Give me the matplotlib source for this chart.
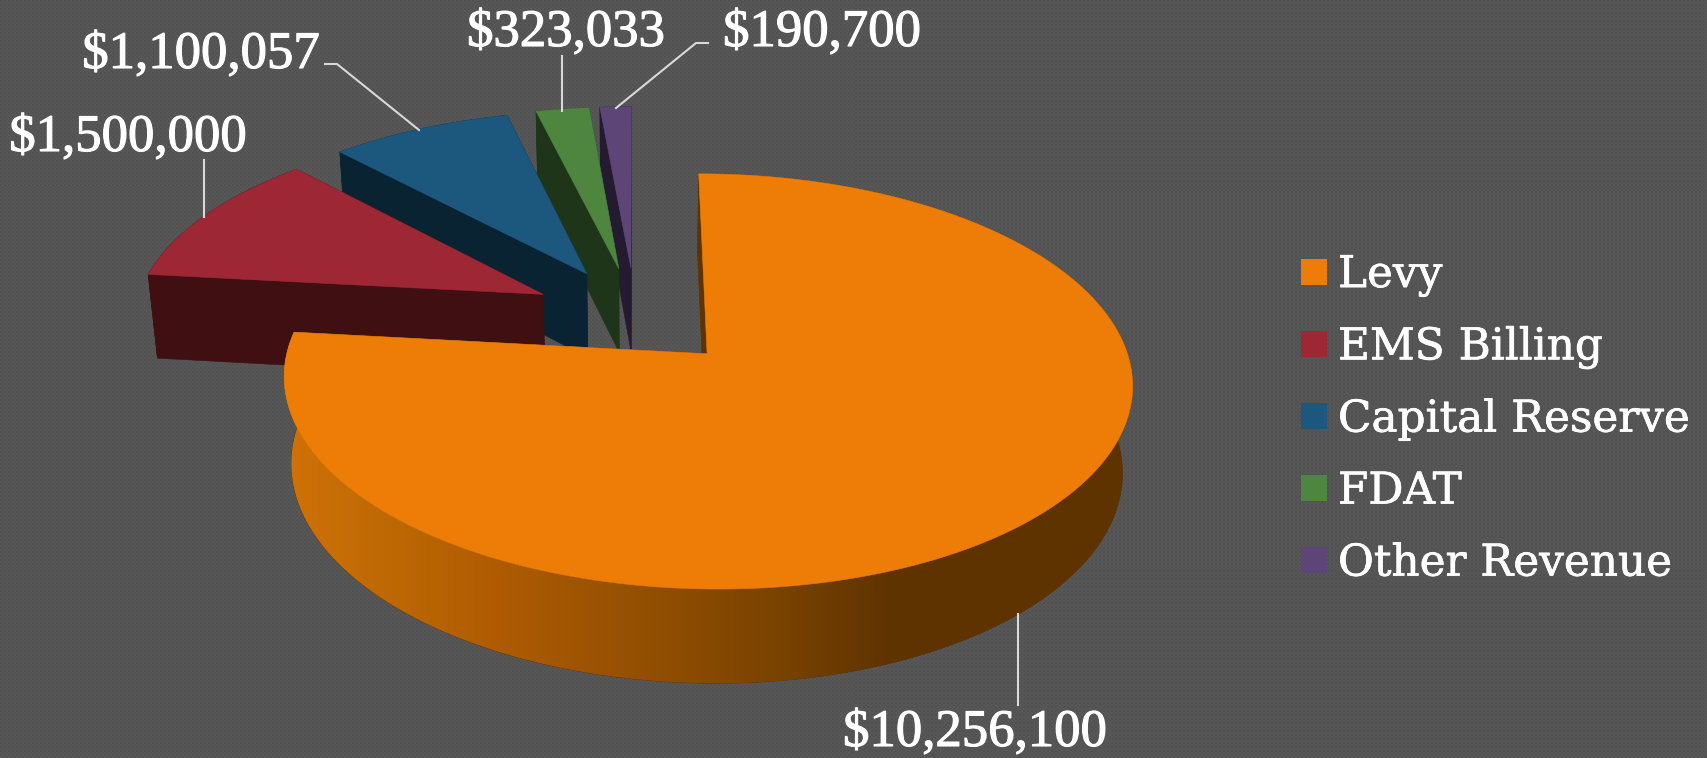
import numpy as np
import matplotlib
matplotlib.use("Agg")
import matplotlib.pyplot as plt
import matplotlib.patheffects as pe
from matplotlib.patches import Polygon, Rectangle

# Revenue sources
categories = ["Levy", "EMS Billing", "Capital Reserve", "FDAT", "Other Revenue"]
values = [10256100, 1500000, 1100057, 323033, 190700]
value_labels = ["$10,256,100", "$1,500,000", "$1,100,057", "$323,033", "$190,700"]

top_colors = ["#EE7D07", "#9D2734", "#1C587E", "#4E853F", "#5E4577"]
wall_colors = ["#5F3300", "#3F0F12", "#0A2333", "#1E3519", "#251B30"]
BG = "#545454"

# camera for the tilted pie, in pixels
VX, VY = 635.5, 316
A, B, C = 410, 194, 87
K, M = 0.13, 0.02
EXPLODE = 0.255

# label centres and their leader lines
label_pos = [(975, 733), (128, 138), (201, 55), (566, 33), (822, 33)]
leaders = [
    [(1018, 614), (1018, 705)],
    [(204, 160), (204, 217)],
    [(325, 64), (337, 64), (419, 130)],
    [(562, 56), (562, 111)],
    [(708, 43), (696, 43), (616, 108)],
]

# shading along the outer wall of the big slice
shade_x = [283, 375, 490, 660, 776, 891, 1140]
shade_rgb = np.array([
    [0xD0, 0x72, 0x07], [0xC0, 0x6A, 0x05], [0xB0, 0x5C, 0x02], [0x90, 0x4E, 0x02],
    [0x7A, 0x43, 0x00], [0x5F, 0x33, 0x00], [0x5F, 0x33, 0x00],
]) / 255


def project(x, y, z=0.0):
    """Perspective projection of pie coordinates to pixels (z is depth below the top)."""
    w = 1 + K * np.asarray(y) + M * z
    return VX + A * np.asarray(x) / w, VY + (-B * np.asarray(y) + C * z) / w


def arc(start, end, ox, oy):
    phi = np.radians(np.linspace(start, end, 200))
    return ox + np.sin(phi), oy + np.cos(phi)


def poly(ax, xs, ys, color, zorder):
    pts = np.column_stack([xs, ys])
    patch = Polygon(pts, closed=True, facecolor=color, edgecolor=color, linewidth=0.4, zorder=zorder)
    ax.add_patch(patch)
    return patch


fig = plt.figure(figsize=(17.07, 7.58), dpi=100, facecolor=BG)
ax = fig.add_axes([0, 0, 1, 1])
ax.set_xlim(0, 1707)
ax.set_ylim(758, 0)
ax.axis("off")

# faint woven texture of the slide background
tile = np.array([[0x51, 0x57], [0x57, 0x53]]) / 255
texture = np.tile(tile, (758 // 4 + 1, 1707 // 4 + 1))
texture = np.kron(texture, np.ones((2, 2)))
ax.imshow(texture, cmap="gray", vmin=0, vmax=1, extent=(0, 1707, 758, 0), aspect="auto",
          interpolation="nearest", zorder=0)

angles = np.cumsum([0] + list(values)) / sum(values) * 360

# painted back to front: the small slices first, the big one last
for i in range(len(values) - 1, -1, -1):
    start, end = angles[i], angles[i + 1]
    mid = np.radians((start + end) / 2)
    ox, oy = EXPLODE * np.sin(mid), EXPLODE * np.cos(mid)
    ax_, ay_ = arc(start, end, ox, oy)
    z = 10 + 2 * (len(values) - i)

    # walls and bottom
    for phi in (start, end):
        ex, ey = ox + np.sin(np.radians(phi)), oy + np.cos(np.radians(phi))
        xs = np.array([ox, ex, ex, ox])
        ys = np.array([oy, ey, ey, oy])
        zs = np.array([0, 0, 1, 1])
        px, py = project(xs, ys, zs)
        poly(ax, px, py, wall_colors[i], z)

    tx, ty = project(ax_, ay_)
    bx, by = project(ax_, ay_, 1.0)
    wall_x = np.concatenate([tx, bx[::-1]])
    wall_y = np.concatenate([ty, by[::-1]])
    wall = poly(ax, wall_x, wall_y, wall_colors[i], z)
    if i == 0:
        xx = np.linspace(250, 1150, 900)
        rgb = np.column_stack([np.interp(xx, shade_x, shade_rgb[:, c]) for c in range(3)])
        im = ax.imshow(rgb[np.newaxis, :, :], extent=(250, 1150, 700, 300), aspect="auto", zorder=z)
        im.set_clip_path(wall)

    ox2, oy2 = project(np.array([ox]), np.array([oy]))
    poly(ax, np.concatenate([ox2, tx]), np.concatenate([oy2, ty]), top_colors[i], z + 1)

ax.set_xlim(0, 1707)
ax.set_ylim(758, 0)

for i, label in enumerate(value_labels):
    t = ax.text(label_pos[i][0], label_pos[i][1], label, color="white", fontsize=38, family="Liberation Serif",
                ha="center", va="center", zorder=30)
    t.set_path_effects([pe.withStroke(linewidth=0.8, foreground="white")])
    pts = np.array(leaders[i])
    ax.plot(pts[:, 0], pts[:, 1], color="#D9D9D9", lw=1.5, zorder=30)

# legend
for i, name in enumerate(categories):
    y = 272 + 72 * i
    ax.add_patch(Rectangle((1301, y - 13), 26, 26, facecolor=top_colors[i], edgecolor="none", zorder=30))
    t = ax.text(1338, y + 3, name, color="white", fontsize=31.5, family="DejaVu Serif",
                ha="left", va="center", zorder=30)
    t.set_path_effects([pe.withStroke(linewidth=0.5, foreground="white")])

fig.savefig("out.png", dpi=100, facecolor=BG)
